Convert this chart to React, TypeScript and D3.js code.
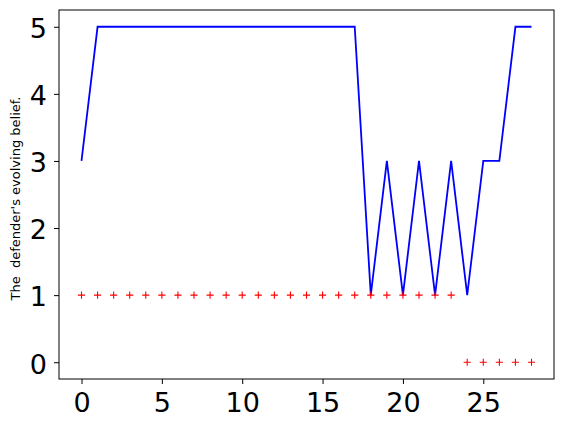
import { useEffect, useRef } from 'react';
import * as d3 from 'd3';

// belief per round (blue line) and action markers (red +)
const rounds = d3.range(0, 29);
const beliefValues = [3, 5, 5, 5, 5, 5, 5, 5, 5, 5, 5, 5, 5, 5, 5, 5, 5, 5, 1, 3, 1, 3, 1, 3, 1, 3, 3, 5, 5];
const actionValues = [1, 1, 1, 1, 1, 1, 1, 1, 1, 1, 1, 1, 1, 1, 1, 1, 1, 1, 1, 1, 1, 1, 1, 1, 0, 0, 0, 0, 0];
const xTicks = [0, 5, 10, 15, 20, 25];
const yTicks = [0, 1, 2, 3, 4, 5];
const yLabel = "The  defender's evolving belief.";

export default function App() {
  const svgRef = useRef<SVGSVGElement | null>(null);

  useEffect(() => {
    if (!svgRef.current) return;
    const W = 564, H = 428;
    const margin = { top: 10, right: 10, bottom: 49, left: 59 };

    const svg = d3.select(svgRef.current);
    svg.selectAll('*').remove();
    svg.attr('width', W).attr('height', H);

    const font = "'DejaVu Sans', sans-serif";

    const x = d3.scaleLinear().domain([-1.4, 29.4]).range([margin.left, W - margin.right]);
    const y = d3.scaleLinear().domain([-0.25, 5.25]).range([H - margin.bottom, margin.top]);

    svg.append('rect').attr('width', W).attr('height', H).attr('fill', '#fff');

    // blue line
    const line = d3.line<number>()
      .x((_, i) => x(rounds[i]))
      .y((d) => y(d));
    svg.append('path')
      .datum(beliefValues)
      .attr('d', line)
      .attr('fill', 'none')
      .attr('stroke', '#0000ff')
      .attr('stroke-width', 1.8)
      .attr('stroke-linejoin', 'miter');

    // red plus markers
    const s = 3.6;
    svg.append('g')
      .selectAll('path')
      .data(actionValues)
      .join('path')
      .attr('d', (d, i) => {
        const cx = x(rounds[i]), cy = y(d);
        return `M${cx - s},${cy}H${cx + s}M${cx},${cy - s}V${cy + s}`;
      })
      .attr('stroke', '#ff0000')
      .attr('stroke-width', 1.1)
      .attr('fill', 'none');

    // frame
    svg.append('rect')
      .attr('x', margin.left)
      .attr('y', margin.top)
      .attr('width', W - margin.left - margin.right)
      .attr('height', H - margin.top - margin.bottom)
      .attr('fill', 'none')
      .attr('stroke', '#000')
      .attr('stroke-width', 1);

    // x axis
    const xAxis = d3.axisBottom(x).tickValues(xTicks).tickSize(5).tickPadding(9).tickFormat(d3.format('d'));
    const gx = svg.append('g').attr('transform', `translate(0,${H - margin.bottom})`).call(xAxis);
    gx.select('.domain').remove();
    gx.selectAll('text').attr('font-family', font).attr('font-size', 27).attr('fill', '#000');
    gx.selectAll('line').attr('stroke', '#000');

    // y axis
    const yAxis = d3.axisLeft(y).tickValues(yTicks).tickSize(5).tickPadding(7).tickFormat(d3.format('d'));
    const gy = svg.append('g').attr('transform', `translate(${margin.left},0)`).call(yAxis);
    gy.select('.domain').remove();
    gy.selectAll('text').attr('font-family', font).attr('font-size', 27).attr('fill', '#000').attr('dy', '0.4em');
    gy.selectAll('line').attr('stroke', '#000');

    // y label
    svg.append('text')
      .attr('transform', `translate(19.5,${(margin.top + H - margin.bottom) / 2 + 4}) rotate(-90)`)
      .attr('text-anchor', 'middle')
      .attr('font-family', font)
      .attr('font-size', 13)
      .attr('fill', '#000')
      .attr('xml:space', 'preserve')
      .style('white-space', 'pre')
      .text(yLabel);
  }, []);

  return (
    <svg ref={svgRef} style={{ position: 'absolute', left: 0, top: 0, display: 'block' }} />
  );
}
